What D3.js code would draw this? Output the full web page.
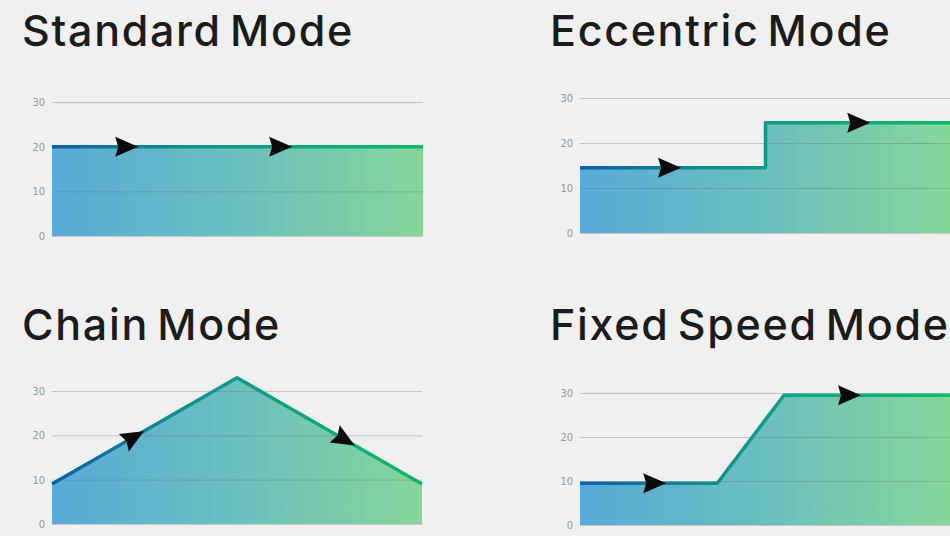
<!DOCTYPE html>
<html>
<head>
<meta charset="utf-8">
<script src="https://cdn.jsdelivr.net/npm/d3@7"></script>
<style>
  body { margin: 0; background: #f0f0f0; overflow: hidden; }
  svg { display: block; }
</style>
</head>
<body>
<div id="container"></div>
<script>
//---------------------------------------------------------
// DATA

const titles = ["Standard Mode", "Eccentric Mode", "Chain Mode", "Fixed Speed Mode"]
const yTicks = [0, 10, 20, 30]

// x is % of the stroke, y is load
const standardLine = [[0, 20], [100, 20]]
const eccentricLine = [[0, 14.5], [50, 14.5], [50, 24.5], [100, 24.5]]
const chainLine = [[0, 9], [50, 33], [100, 9]]
const fixedSpeedLine = [[0, 9.5], [37, 9.5], [55, 29.5], [100, 29.5]]

const standardArrows = [20, 61.5]
const eccentricArrows = [24, 75]
const chainArrows = [22, 79]
const fixedSpeedArrows = [20, 72.5]

//---------------------------------------------------------
// LAYOUT

const width = 950
const height = 536

const panels = [
  {title: titles[0], line: standardLine, arrows: standardArrows, tx: 22, ty: 46, x0: 52, x1: 423, yTop: 102, yBot: 236},
  {title: titles[1], line: eccentricLine, arrows: eccentricArrows, tx: 550, ty: 46, x0: 580, x1: 951, yTop: 98, yBot: 233},
  {title: titles[2], line: chainLine, arrows: chainArrows, tx: 22, ty: 340, x0: 52, x1: 422, yTop: 391, yBot: 524},
  {title: titles[3], line: fixedSpeedLine, arrows: fixedSpeedArrows, tx: 550, ty: 340, x0: 580, x1: 951, yTop: 393, yBot: 525}
]

const svg = d3.select('#container').append('svg')
  .attr('width', width)
  .attr('height', height)

svg.append('rect')
  .attr('width', width)
  .attr('height', height)
  .attr('fill', '#f0f0f0')

const defs = svg.append('defs')

panels.forEach((p, i) => {
  const fillGrad = defs.append('linearGradient')
    .attr('id', `fill${i}`)
    .attr('gradientUnits', 'userSpaceOnUse')
    .attr('x1', p.x0).attr('x2', p.x1).attr('y1', 0).attr('y2', 0)
  fillGrad.append('stop').attr('offset', 0).attr('stop-color', '#5aaad8')
  fillGrad.append('stop').attr('offset', 0.5).attr('stop-color', '#6cbfbe')
  fillGrad.append('stop').attr('offset', 1).attr('stop-color', '#86d69a')

  const lineGrad = defs.append('linearGradient')
    .attr('id', `line${i}`)
    .attr('gradientUnits', 'userSpaceOnUse')
    .attr('x1', p.x0).attr('x2', p.x1).attr('y1', 0).attr('y2', 0)
  lineGrad.append('stop').attr('offset', 0).attr('stop-color', '#0f5ea8')
  lineGrad.append('stop').attr('offset', 0.4).attr('stop-color', '#0e958c')
  lineGrad.append('stop').attr('offset', 1).attr('stop-color', '#10b868')
})

//---------------------------------------------------------
// DRAWING

panels.forEach((p, i) => {
  const x = d3.scaleLinear().domain([0, 100]).range([p.x0, p.x1])
  const y = d3.scaleLinear().domain([0, 30]).range([p.yBot, p.yTop])

  const g = svg.append('g')

  // title
  g.append('text')
    .attr('x', p.tx)
    .attr('y', p.ty)
    .attr('fill', '#1b1b1b')
    .style('font-family', 'Inter, "Liberation Sans", sans-serif')
    .style('font-weight', 500)
    .style('font-size', '43px')
    .style('word-spacing', '-5px')
    .style('letter-spacing', '1.7px')
    .text(p.title)

  // area
  const area = d3.area()
    .x(d => x(d[0]))
    .y0(y(0))
    .y1(d => y(d[1]))

  g.append('path')
    .datum(p.line)
    .attr('d', area)
    .attr('fill', `url(#fill${i})`)

  // y axis grid
  const axis = d3.axisLeft(y)
    .tickValues(yTicks)
    .tickSize(-(p.x1 - p.x0))
    .tickPadding(7)

  const ax = g.append('g')
    .attr('transform', `translate(${p.x0},0)`)
    .call(axis)

  ax.select('.domain').remove()
  ax.selectAll('.tick line')
    .attr('stroke', '#666')
    .attr('stroke-opacity', 0.3)
  ax.selectAll('.tick text')
    .attr('fill', '#999')
    .style('font-family', '"Liberation Sans Narrow", "DejaVu Sans Condensed", sans-serif')
    .style('font-size', '11px')

  // line
  const line = d3.line()
    .x(d => x(d[0]))
    .y(d => y(d[1]))

  g.append('path')
    .datum(p.line)
    .attr('d', line)
    .attr('fill', 'none')
    .attr('stroke', `url(#line${i})`)
    .attr('stroke-width', 3.5)
    .attr('stroke-linejoin', 'round')

  // arrows
  const valueAt = xv => {
    for (let k = 0; k < p.line.length - 1; k++) {
      const a = p.line[k], b = p.line[k + 1]
      if (xv >= a[0] && xv <= b[0] && b[0] > a[0]) {
        const t = (xv - a[0]) / (b[0] - a[0])
        return {v: a[1] + t * (b[1] - a[1]), a, b}
      }
    }
    return {v: p.line[0][1], a: p.line[0], b: p.line[1]}
  }

  p.arrows.forEach(xv => {
    const {v, a, b} = valueAt(xv)
    const angle = Math.atan2(y(b[1]) - y(a[1]), x(b[0]) - x(a[0])) * 180 / Math.PI
    g.append('path')
      .attr('d', 'M12,0 L-11,-10 L-8,0 L-11,10 Z')
      .attr('fill', '#0b0b0b')
      .attr('transform', `translate(${x(xv)},${y(v)}) rotate(${angle})`)
  })
})
</script>
</body>
</html>
